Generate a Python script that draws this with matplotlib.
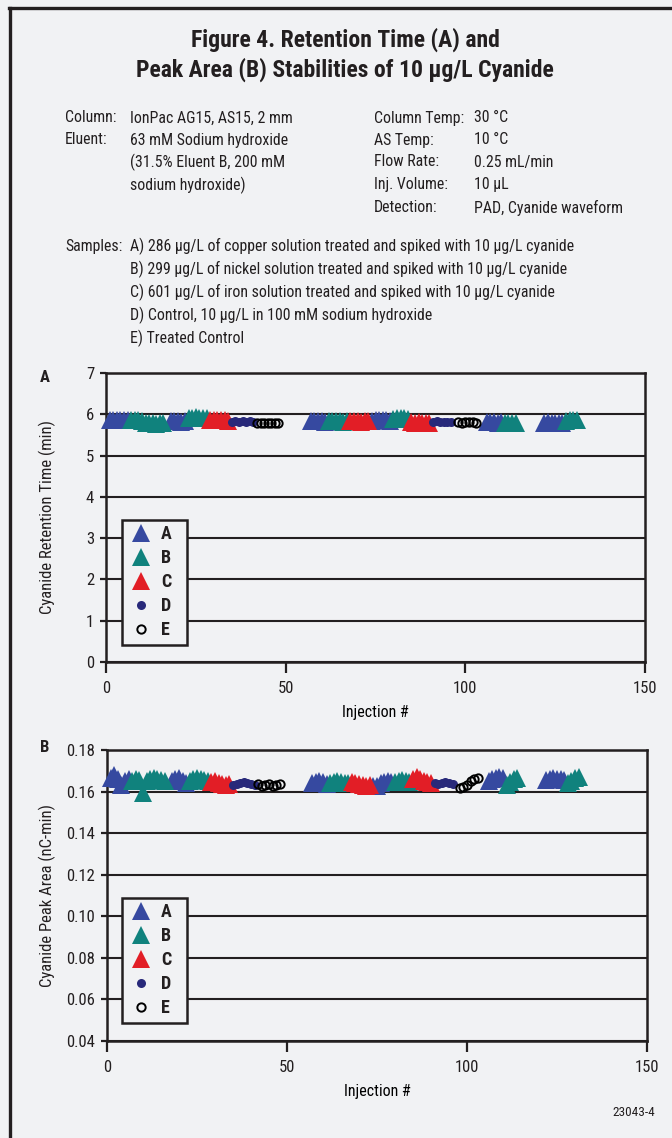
import matplotlib
matplotlib.use('Agg')
import matplotlib.pyplot as plt
from matplotlib.lines import Line2D

plt.rcParams['font.family'] = ['Roboto Condensed', 'Liberation Sans Narrow', 'Roboto', 'DejaVu Sans']
plt.rcParams['text.color'] = '#231f20'

BG = '#f1f2f4'
INK = '#231f20'

# ---- data ----
labels = ['A', 'B', 'C', 'D', 'E']

x_A = [1, 2, 3, 4, 5, 6, 18, 19, 20, 21, 22, 57, 58, 59, 60, 61,
       74, 75, 76, 77, 78, 79, 106, 107, 108, 109, 110, 122, 123, 124, 125, 126, 127]
x_B = [7, 8, 9, 10, 11, 12, 13, 14, 15, 16, 23, 24, 25, 26, 27, 28,
       62, 63, 64, 65, 66, 67, 80, 81, 82, 83, 84, 111, 112, 113, 114, 128, 129, 130, 131]
x_C = [29, 30, 31, 32, 33, 34, 68, 69, 70, 71, 72, 73, 85, 86, 87, 88, 89, 90]
x_D = [35, 36, 37, 38, 39, 40, 41, 91, 92, 93, 94, 95, 96]
x_E = [42, 43, 44, 45, 46, 47, 48, 98, 99, 100, 101, 102, 103]

# retention time (min)
rt_A = [5.85, 5.86, 5.85, 5.85, 5.86, 5.85, 5.83, 5.84, 5.83, 5.82, 5.83,
        5.83, 5.83, 5.84, 5.83, 5.82, 5.84, 5.85, 5.85, 5.86, 5.85, 5.84,
        5.81, 5.82, 5.81, 5.80, 5.81, 5.80, 5.81, 5.80, 5.80, 5.79, 5.80]
rt_B = [5.86, 5.86, 5.85, 5.84, 5.80, 5.78, 5.78, 5.77, 5.78, 5.78,
        5.90, 5.92, 5.93, 5.92, 5.91, 5.90, 5.83, 5.84, 5.83, 5.83, 5.82, 5.83,
        5.88, 5.90, 5.91, 5.90, 5.88, 5.80, 5.79, 5.79, 5.78, 5.84, 5.85, 5.86, 5.85]
rt_C = [5.87, 5.86, 5.87, 5.86, 5.85, 5.84, 5.83, 5.84, 5.83, 5.82, 5.83, 5.83,
        5.82, 5.80, 5.81, 5.79, 5.80, 5.80]
rt_D = [5.82, 5.83, 5.82, 5.83, 5.82, 5.83, 5.82, 5.82, 5.83, 5.82, 5.81, 5.82, 5.82]
rt_E = [5.79, 5.78, 5.80, 5.79, 5.78, 5.79, 5.80, 5.81, 5.80, 5.81, 5.82, 5.81, 5.80]

# peak area (nC-min)
pa_A = [0.1665, 0.1680, 0.1660, 0.1630, 0.1650, 0.1660, 0.1650, 0.1660, 0.1665, 0.1650, 0.1640,
        0.1640, 0.1645, 0.1650, 0.1645, 0.1635, 0.1625, 0.1628, 0.1640, 0.1645, 0.1650, 0.1645,
        0.1650, 0.1660, 0.1665, 0.1670, 0.1665, 0.1655, 0.1660, 0.1665, 0.1662, 0.1660, 0.1655]
pa_B = [0.1650, 0.1660, 0.1655, 0.1595, 0.1650, 0.1660, 0.1665, 0.1660, 0.1655, 0.1650,
        0.1650, 0.1660, 0.1665, 0.1660, 0.1655, 0.1650, 0.1640, 0.1645, 0.1650, 0.1648, 0.1642, 0.1640,
        0.1645, 0.1650, 0.1655, 0.1650, 0.1645, 0.1630, 0.1645, 0.1660, 0.1665,
        0.1640, 0.1650, 0.1665, 0.1670]
pa_C = [0.1645, 0.1650, 0.1640, 0.1635, 0.1630, 0.1635, 0.1645, 0.1640, 0.1635, 0.1630, 0.1628, 0.1630,
        0.1660, 0.1670, 0.1660, 0.1650, 0.1645, 0.1640]
pa_D = [0.1630, 0.1635, 0.1640, 0.1645, 0.1642, 0.1635, 0.1632,
        0.1640, 0.1635, 0.1642, 0.1645, 0.1640, 0.1638]
pa_E = [0.1635, 0.1625, 0.1630, 0.1635, 0.1628, 0.1632, 0.1638,
        0.1615, 0.1620, 0.1630, 0.1650, 0.1660, 0.1665]

styles = {
    'A': dict(marker='^', color='#3649a0', ms=12.5),
    'B': dict(marker='^', color='#10827d', ms=12.5),
    'C': dict(marker='^', color='#e21e26', ms=12.5),
    'D': dict(marker='o', color='#28297a', ms=6.5),
    'E': dict(marker='o', color='black', ms=6, mfc='none', mew=1.4),
}

W, H = 672, 1138
fig = plt.figure(figsize=(W / 100, H / 100), dpi=100, facecolor=BG)

def fx(px):
    return px / W

def fy(py):
    return 1 - py / H

# frame of the figure panel
fig.add_artist(Line2D([fx(10), fx(10)], [fy(8), 0], color=INK, lw=2.4))
fig.add_artist(Line2D([fx(9), 1], [fy(8), fy(8)], color=INK, lw=2.4))

# ---- header ----
tfs = 17
fig.text(fx(345), fy(40), 'Figure 4. Retention Time (A) and', ha='center', va='center',
         fontsize=tfs, weight='bold')
fig.text(fx(345), fy(70), 'Peak Area (B) Stabilities of 10 µg/L Cyanide', ha='center', va='center',
         fontsize=tfs, weight='bold')

fs = 11.4
left_rows = [('Column:', 'IonPac AG15, AS15, 2 mm'),
             ('Eluent:', '63 mM Sodium hydroxide'),
             ('', '(31.5% Eluent B, 200 mM'),
             ('', 'sodium hydroxide)')]
right_rows = [('Column Temp:', '30 °C'),
              ('AS Temp:', '10 °C'),
              ('Flow Rate:', '0.25 mL/min'),
              ('Inj. Volume:', '10 µL'),
              ('Detection:', 'PAD, Cyanide waveform')]
row_y = [118, 140, 162, 185, 208]
for (k, v), yy in zip(left_rows, row_y):
    fig.text(fx(65), fy(yy), k, va='center', fontsize=fs)
    fig.text(fx(130), fy(yy), v, va='center', fontsize=fs)
for (k, v), yy in zip(right_rows, row_y):
    fig.text(fx(374), fy(yy), k, va='center', fontsize=fs)
    fig.text(fx(474), fy(yy), v, va='center', fontsize=fs)

samples = ['A) 286 µg/L of copper solution treated and spiked with 10 µg/L cyanide',
           'B) 299 µg/L of nickel solution treated and spiked with 10 µg/L cyanide',
           'C) 601 µg/L of iron solution treated and spiked with 10 µg/L cyanide',
           'D) Control, 10 µg/L in 100 mM sodium hydroxide',
           'E) Treated Control']
fig.text(fx(65), fy(246), 'Samples:', va='center', fontsize=fs)
for i, s in enumerate(samples):
    fig.text(fx(130), fy(246 + 23 * i), s, va='center', fontsize=fs)

# ---- panels ----
xs = [x_A, x_B, x_C, x_D, x_E]
panels = [
    dict(box=(106, 373, 645, 662), ys=[rt_A, rt_B, rt_C, rt_D, rt_E], ylim=(0, 7),
         yticks=[0, 1, 2, 3, 4, 5, 6, 7], fmt='{:.0f}', ylabel='Cyanide Retention Time (min)',
         tag='A', tag_y=377, leg_top=520),
    dict(box=(107, 750, 647, 1041), ys=[pa_A, pa_B, pa_C, pa_D, pa_E], ylim=(0.04, 0.18),
         yticks=[0.04, 0.06, 0.08, 0.10, 0.12, 0.14, 0.16, 0.18], fmt='{:.2f}',
         ylabel='Cyanide Peak Area (nC-min)', tag='B', tag_y=748, leg_top=898),
]

for p in panels:
    l, t, r, b = p['box']
    ax = fig.add_axes([fx(l), fy(b), (r - l) / W, (b - t) / H])
    ax.set_facecolor(BG)
    handles = []
    for lab, xv, yv in zip(labels, xs, p['ys']):
        st = dict(styles[lab])
        mfc = st.pop('mfc', st['color'])
        mew = st.pop('mew', 0)
        h, = ax.plot(xv, yv, ls='none', marker=st['marker'], ms=st['ms'], mfc=mfc,
                     mec=st['color'], mew=mew, clip_on=False, zorder=3, label=lab)
        handles.append(h)
    ax.set_xlim(0, 150)
    ax.set_ylim(*p['ylim'])
    ax.set_xticks([0, 50, 100, 150])
    ax.set_yticks(p['yticks'])
    ax.set_yticklabels([p['fmt'].format(v) for v in p['yticks']])
    ax.yaxis.grid(True, color=INK, lw=1.5)
    ax.set_axisbelow(True)
    for sp in ax.spines.values():
        sp.set_linewidth(1.8)
        sp.set_color(INK)
    ax.tick_params(axis='y', direction='out', length=4.5, width=1.6, pad=4, labelsize=12, colors=INK)
    ax.tick_params(axis='x', direction='out', length=8, width=1.6, pad=6, labelsize=12, colors=INK)
    ax.set_xlabel('Injection #', fontsize=11.5, labelpad=6)
    fig.text(fx(47), fy((t + b) / 2), p['ylabel'], rotation=90, ha='center', va='center', fontsize=12)
    fig.text(fx(45), fy(p['tag_y']), p['tag'], ha='center', va='center', fontsize=12, weight='bold')

    lx = (122 - l) / (r - l)
    lw_ = 65 / (r - l)
    ltop = (b - p['leg_top']) / (b - t)
    leg = ax.legend(handles=handles, loc='upper left', bbox_to_anchor=(lx, 0, lw_, ltop),
                    mode='expand', borderaxespad=0, frameon=True, fancybox=False,
                    edgecolor=INK, facecolor=BG, framealpha=1, numpoints=1,
                    prop={'weight': 'bold', 'size': 13}, handlelength=1.5,
                    handletextpad=0.35, labelspacing=0.33, borderpad=0.3)
    leg.get_frame().set_linewidth(1.8)

fig.text(fx(655), fy(1113), '23043-4', ha='right', va='center', fontsize=9.5)

fig.savefig('out.png', dpi=100, facecolor=BG)
